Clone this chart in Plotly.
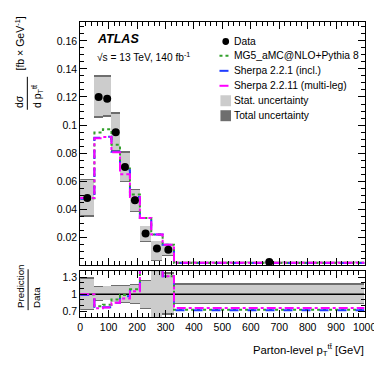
import plotly.graph_objects as go

W, H = 382, 367

# bin edges (GeV) and parton-level cross sections (fb/GeV)
edges = [0, 50, 80, 110, 140, 175, 210, 250, 290, 330, 1000]
data = [0.0480, 0.1200, 0.1187, 0.0949, 0.0701, 0.0463, 0.0227, 0.0120, 0.0111, 0.0023]
tot_up = [0.0138, 0.0156, 0.0169, 0.0145, 0.0112, 0.0083, 0.0057, 0.0057, 0.0043, 0.00042]
tot_dn = [0.0136, 0.0149, 0.0127, 0.0139, 0.0107, 0.0083, 0.0061, 0.0086, 0.0041, 0.00042]
stat_up = [0.0126, 0.0143, 0.0155, 0.0133, 0.0102, 0.0075, 0.0052, 0.0052, 0.0039, 0.00036]
stat_dn = [0.0124, 0.0136, 0.0116, 0.0127, 0.0098, 0.0075, 0.0056, 0.0079, 0.0037, 0.00036]

mg5 = [0.0478, 0.0946, 0.0970, 0.0860, 0.0690, 0.0504, 0.0337, 0.0220, 0.0146, 0.00168]
sh221 = [0.0474, 0.0909, 0.0916, 0.0809, 0.0677, 0.0487, 0.0337, 0.0220, 0.0146, 0.00166]
sh2211 = [0.0480, 0.0905, 0.0914, 0.0806, 0.0650, 0.0487, 0.0337, 0.0220, 0.0146, 0.00175]

FONT = "Liberation Sans, Arial, sans-serif"
STAT_C = "#cccccc"
TOT_C = "#6e6e6e"

centers = [(a + b) / 2 for a, b in zip(edges[:-1], edges[1:])]
widths = [b - a for a, b in zip(edges[:-1], edges[1:])]


def px(x):
    return x / W


def py(y):
    return 1 - y / H


def boxes(vals, up, dn, color, xa, ya):
    return go.Bar(x=centers, width=widths, base=[v - d for v, d in zip(vals, dn)],
                  y=[u + d for u, d in zip(up, dn)], marker=dict(color=color, line_width=0),
                  xaxis=xa, yaxis=ya, showlegend=False, hoverinfo="skip")


def step(vals, color, dash, xa, ya):
    return go.Scatter(x=edges, y=list(vals) + [vals[-1]], mode="lines", line_shape="hv",
                      line=dict(color=color, dash=dash, width=2), xaxis=xa, yaxis=ya,
                      showlegend=False)


models = [(mg5, "#33a02c", "dot"), (sh221, "#1f3cff", "dash"), (sh2211, "#ff00ff", "dashdot")]

fig = go.Figure()

# top panel
fig.add_trace(boxes(data, tot_up, tot_dn, TOT_C, "x", "y"))
fig.add_trace(boxes(data, stat_up, stat_dn, STAT_C, "x", "y"))
for vals, c, d in models:
    fig.add_trace(step(vals, c, d, "x", "y"))
fig.add_trace(go.Scatter(x=centers, y=data, mode="markers",
                         marker=dict(color="black", size=8), showlegend=False))

# ratio panel
ones = [1.0] * len(data)
r_tot_up = [u / v for u, v in zip(tot_up, data)]
r_tot_dn = [d / v for d, v in zip(tot_dn, data)]
r_stat_up = [u / v for u, v in zip(stat_up, data)]
r_stat_dn = [d / v for d, v in zip(stat_dn, data)]
fig.add_trace(boxes(ones, r_tot_up, r_tot_dn, TOT_C, "x2", "y2"))
fig.add_trace(boxes(ones, r_stat_up, r_stat_dn, STAT_C, "x2", "y2"))
fig.add_trace(go.Scatter(x=[edges[0], edges[-1]], y=[1, 1], mode="lines",
                         line=dict(color="black", width=1.5), xaxis="x2", yaxis="y2",
                         showlegend=False))
for vals, c, d in models:
    fig.add_trace(step([m / v for m, v in zip(vals, data)], c, d, "x2", "y2"))

XDOM = [px(72), px(368)]
axis_common = dict(showline=True, linecolor="black", linewidth=1, mirror="allticks",
                   ticks="inside", ticklen=7, tickcolor="black", showgrid=False,
                   zeroline=False, tickfont=dict(size=10.5, color="black", family=FONT))

fig.update_layout(
    width=W, height=H, margin=dict(l=0, r=0, t=0, b=0),
    plot_bgcolor="white", paper_bgcolor="white", barmode="overlay", bargap=0,
    font=dict(family=FONT, color="black", size=10),
    xaxis=dict(domain=XDOM, range=[0, 1000], anchor="y", dtick=100, showticklabels=False,
               minor=dict(dtick=20, ticklen=4, ticks="inside", tickcolor="black"), **axis_common),
    yaxis=dict(domain=[py(257), py(13)], range=[0, 0.1735], anchor="x",
               tickvals=[0.02, 0.04, 0.06, 0.08, 0.1, 0.12, 0.14, 0.16],
               ticktext=["0.02", "0.04", "0.06", "0.08", "0.1", "0.12", "0.14", "0.16"],
               minor=dict(dtick=0.005, ticklen=4, ticks="inside", tickcolor="black"), **axis_common),
    xaxis2=dict(domain=XDOM, range=[0, 1000], anchor="y2", dtick=100,
                minor=dict(dtick=20, ticklen=4, ticks="inside", tickcolor="black"), **axis_common),
    yaxis2=dict(domain=[py(309), py(263)], range=[0.6, 1.4], anchor="x2",
                tickvals=[0.7, 1, 1.3], ticktext=["0.7", "1", "1.3"],
                minor=dict(dtick=0.1, ticklen=4, ticks="inside", tickcolor="black"), **axis_common),
)

ann = []
shapes = []


def text(x, y, s, size=10, angle=0, xa="left", ya="middle", **kw):
    ann.append(dict(x=px(x), y=py(y), xref="paper", yref="paper", text=s, showarrow=False,
                    textangle=angle, xanchor=xa, yanchor=ya,
                    font=dict(size=size, family=FONT, color="black"), **kw))


def hline(x0, x1, y, color="black", dash="solid", width=1):
    shapes.append(dict(type="line", xref="paper", yref="paper", x0=px(x0), x1=px(x1),
                       y0=py(y), y1=py(y), line=dict(color=color, dash=dash, width=width)))


def vline(x, y0, y1):
    shapes.append(dict(type="line", xref="paper", yref="paper", x0=px(x), x1=px(x),
                       y0=py(y0), y1=py(y1), line=dict(color="black", width=1)))


# ATLAS label
text(87, 30, "<b><i>ATLAS</i></b>", size=12.5)
text(87, 48, "√s = 13 TeV, 140 fb<sup>-1</sup>", size=10.2)

# legend
rows = [32.7, 47, 62, 77, 92, 107]
labels = ["Data", "MG5_aMC@NLO+Pythia 8", "Sherpa 2.2.1 (incl.)",
          "Sherpa 2.2.11 (multi-leg)", "Stat. uncertainty", "Total uncertainty"]
for yy, lab in zip(rows, labels):
    text(230, yy, lab, size=10.3)
shapes.append(dict(type="circle", xref="paper", yref="paper", x0=px(220), x1=px(227),
                   y0=py(36.2), y1=py(29.2), fillcolor="black", line_width=0))
for yy, (vals, c, d) in zip(rows[1:4], models):
    hline(217, 229, yy, color=c, dash=d, width=2)
for yy, c in zip(rows[4:], [STAT_C, TOT_C]):
    shapes.append(dict(type="rect", xref="paper", yref="paper", x0=px(218), x1=px(229),
                       y0=py(yy + 5.5), y1=py(yy - 5.5), fillcolor=c, line_width=0))

# y titles
text(16.5, 101, "dσ", size=10.5, angle=-90, xa="right", ya="bottom")
text(17.5, 101, "d p<sub>T</sub><sup>tt̄</sup>", size=10.5, angle=-90, xa="left", ya="bottom")
vline(17, 101, 68)
text(9, 64, "[fb × GeV<sup>-1</sup>]", size=10.5, angle=-90, xa="center", ya="bottom")

text(17, 302, "Prediction", size=9.8, angle=-90, xa="right", ya="bottom")
text(18.5, 302, "Data", size=9.8, angle=-90, xa="left", ya="bottom")
vline(17.8, 302, 261)

# x title
text(369, 342, "Parton-level p<sub>T</sub><sup>tt̄</sup> [GeV]", size=11.3, xa="right")

fig.update_layout(annotations=ann, shapes=shapes)
fig.write_html("out.html")
